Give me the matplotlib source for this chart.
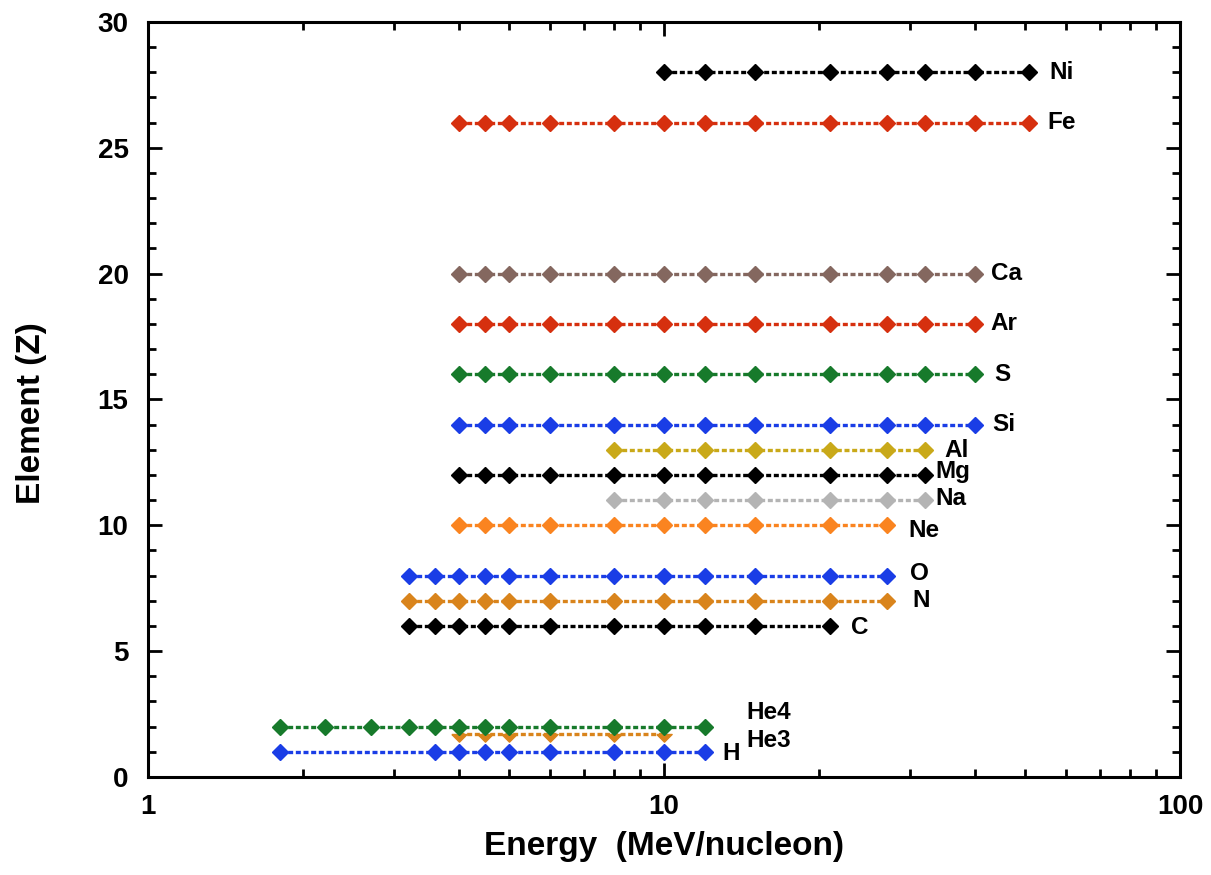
import numpy as np
import matplotlib
matplotlib.use("Agg")
from matplotlib import pyplot as plt
from matplotlib.ticker import LogLocator, FixedLocator, MultipleLocator, NullFormatter

plt.rcParams['font.family'] = ['Liberation Sans', 'DejaVu Sans']
plt.rcParams['font.weight'] = 'bold'

# energy grid points (MeV/nucleon) measured for each species
E_H = [1.8, 3.6, 4.0, 4.5, 5.0, 6.0, 8.0, 10.0, 12.0]
E_He4 = [1.8, 2.2, 2.7, 3.2, 3.6, 4.0, 4.5, 5.0, 6.0, 8.0, 10.0, 12.0]
E_He3 = [4.0, 4.5, 5.0, 6.0, 8.0, 10.0]
E_CNO = [3.2, 3.6, 4.0, 4.5, 5.0, 6.0, 8.0, 10.0, 12.0, 15.0, 21.0, 27.0]
E_C = [3.2, 3.6, 4.0, 4.5, 5.0, 6.0, 8.0, 10.0, 12.0, 15.0, 21.0]
E_Ne = [4.0, 4.5, 5.0, 6.0, 8.0, 10.0, 12.0, 15.0, 21.0, 27.0]
E_odd = [8.0, 10.0, 12.0, 15.0, 21.0, 27.0, 32.0]
E_Mg = [4.0, 4.5, 5.0, 6.0, 8.0, 10.0, 12.0, 15.0, 21.0, 27.0, 32.0]
E_heavy = [4.0, 4.5, 5.0, 6.0, 8.0, 10.0, 12.0, 15.0, 21.0, 27.0, 32.0, 40.0]
E_Fe = [4.0, 4.5, 5.0, 6.0, 8.0, 10.0, 12.0, 15.0, 21.0, 27.0, 32.0, 40.0, 51.0]
E_Ni = [10.0, 12.0, 15.0, 21.0, 27.0, 32.0, 40.0, 51.0]

names = ["H", "He3", "He4", "C", "N", "O", "Ne", "Na", "Mg", "Al",
         "Si", "S", "Ar", "Ca", "Fe", "Ni"]
Z = [1, 1.7, 2, 6, 7, 8, 10, 11, 12, 13, 14, 16, 18, 20, 26, 28]
energies = [E_H, E_He3, E_He4, E_C, E_CNO, E_CNO, E_Ne, E_odd, E_Mg, E_odd,
            E_heavy, E_heavy, E_heavy, E_heavy, E_Fe, E_Ni]

blue = "#1a3de6"
green = "#177a2b"
red = "#d6300f"
black = "#000000"
colors = {"H": blue, "He3": "#d9841c", "He4": green, "C": black,
          "N": "#d9841c", "O": blue, "Ne": "#fa8420", "Na": "#b4b4b4",
          "Mg": black, "Al": "#c9a919", "Si": blue, "S": green, "Ar": red,
          "Ca": "#84675f", "Fe": red, "Ni": black}

# label offsets from the last point of each row, in pixels
label_off = {"H": (18, -2), "He3": (82, -6), "He4": (42, 14), "C": (21, -2),
             "N": (26, 0), "O": (23, 2), "Ne": (22, -5), "Na": (11, 2),
             "Mg": (11, 3), "Al": (20, -1), "Si": (18, 0), "S": (20, 0),
             "Ar": (16, 0), "Ca": (16, 0), "Fe": (18, 0), "Ni": (20, 0)}

# lower half of a diamond, used for the He3 row
half_diamond = [(-1, 0), (1, 0), (0, -1), (-1, 0)]

fig = plt.figure(figsize=(12.11, 8.75), dpi=100)
ax = fig.add_axes([0.1222, 0.112, 0.8522, 0.8629])

for name, z, e in zip(names, Z, energies):
    c = colors[name]
    marker = half_diamond if name == "He3" else "D"
    ms = 11 if name == "He3" else 7.8
    ax.plot(e, [z] * len(e), color=c, lw=2.4, ls=(0, (1.5, 0.8)),
            marker=marker, ms=ms, mec=c, mfc=c, zorder=2 if name == "He3" else 3)
    dx, dy = label_off[name]
    ax.annotate(name, (e[-1], z), xytext=(dx, dy), textcoords='offset pixels',
                ha='left', va='center', fontsize=17.5, fontweight='bold')

ax.set_xscale('log')
ax.set_xlim(1, 100)
ax.set_ylim(0, 30)
ax.xaxis.set_major_locator(FixedLocator([1, 10, 100]))
ax.set_xticklabels(["1", "10", "100"])
ax.xaxis.set_minor_locator(LogLocator(base=10, subs=np.arange(2, 10)))
ax.xaxis.set_minor_formatter(NullFormatter())
ax.yaxis.set_major_locator(MultipleLocator(5))
ax.yaxis.set_minor_locator(MultipleLocator(1))

ax.tick_params(which='both', direction='in', top=True, right=True,
               labelsize=20, pad=12, width=2)
ax.tick_params(axis='y', pad=14)
ax.tick_params(which='major', length=10)
ax.tick_params(which='minor', length=6)
for lab in ax.get_xticklabels() + ax.get_yticklabels():
    lab.set_fontweight('bold')
for s in ax.spines.values():
    s.set_linewidth(2.2)

ax.set_xlabel("Energy  (MeV/nucleon)", fontsize=24, fontweight='bold', labelpad=8)
ax.set_ylabel("Element (Z)", fontsize=24, fontweight='bold')
ax.yaxis.set_label_coords(-0.098, 0.482)

fig.savefig("out.png", dpi=100)
